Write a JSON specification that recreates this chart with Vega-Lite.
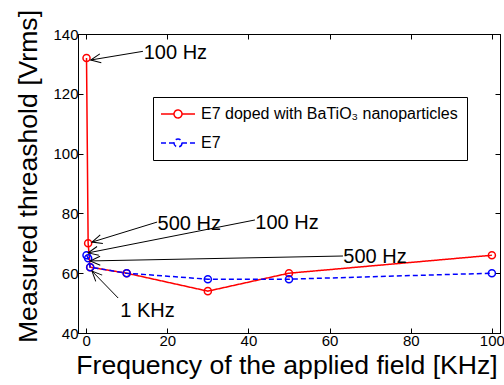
{
  "$schema": "https://vega.github.io/schema/vega-lite/v6.json",
  "width": 422,
  "height": 299,
  "autosize": {"type": "none"},
  "padding": {"left": 78, "top": 34, "right": 4, "bottom": 52},
  "background": "white",
  "config": {
    "view": {"stroke": "black", "strokeWidth": 1},
    "font": "Liberation Sans",
    "axis": {
      "grid": false,
      "domainColor": "black",
      "tickColor": "black",
      "labelColor": "black",
      "titleColor": "black",
      "labelFont": "Liberation Sans",
      "titleFont": "Liberation Sans",
      "labelFontSize": 15,
      "titleFontSize": 26.6,
      "titleFontWeight": "normal",
      "tickSize": -5,
      "tickWidth": 1,
      "domainWidth": 1
    }
  },
  "datasets": {
    "series": [
      {"f": 0.1, "v": 132, "s": "E7 doped with BaTiO₃ nanoparticles"},
      {"f": 0.5, "v": 70, "s": "E7 doped with BaTiO₃ nanoparticles"},
      {"f": 1, "v": 62, "s": "E7 doped with BaTiO₃ nanoparticles"},
      {"f": 10, "v": 60, "s": "E7 doped with BaTiO₃ nanoparticles"},
      {"f": 30, "v": 54, "s": "E7 doped with BaTiO₃ nanoparticles"},
      {"f": 50, "v": 60, "s": "E7 doped with BaTiO₃ nanoparticles"},
      {"f": 100, "v": 66, "s": "E7 doped with BaTiO₃ nanoparticles"},
      {"f": 0.1, "v": 66, "s": "E7"},
      {"f": 0.5, "v": 65, "s": "E7"},
      {"f": 1, "v": 62, "s": "E7"},
      {"f": 10, "v": 60, "s": "E7"},
      {"f": 30, "v": 58, "s": "E7"},
      {"f": 50, "v": 58, "s": "E7"},
      {"f": 100, "v": 60, "s": "E7"}
    ],
    "ann": [
      {"label": "100 Hz", "tx": 14.2, "ty": 133.6, "x1": 14.0, "y1": 134.2, "x2": 1.13, "y2": 131.3},
      {"label": "500 Hz", "tx": 17.6, "ty": 76.4, "x1": 17.5, "y1": 77.1, "x2": 1.45, "y2": 70.4},
      {"label": "100 Hz", "tx": 41.7, "ty": 76.9, "x1": 41.6, "y1": 77.8, "x2": 0.5, "y2": 66.8},
      {"label": "500 Hz", "tx": 63.4, "ty": 65.4, "x1": 63.3, "y1": 65.75, "x2": 1.0, "y2": 64.1},
      {"label": "1 KHz", "tx": 8.4, "ty": 47.3, "x1": 7.9, "y1": 51.7, "x2": 1.45, "y2": 60.7}
    ]
  },
  "layer": [
    {
      "data": {"name": "series"},
      "transform": [{"filter": "datum.s !== 'E7'"}],
      "mark": {"type": "line", "strokeWidth": 1.5},
      "encoding": {
        "x": {"field": "f", "type": "quantitative", "scale": {"domain": [-2, 102], "nice": false, "zero": false},
          "axis": {"orient": "bottom", "values": [0, 20, 40, 60, 80, 100], "title": "Frequency of the applied field [KHz]", "labelPadding": 5, "titlePadding": 4, "titleX": 208.5}},
        "y": {"field": "v", "type": "quantitative", "scale": {"domain": [40, 140], "nice": false, "zero": false},
          "axis": {"orient": "left", "values": [40, 60, 80, 100, 120, 140], "title": "Measured threashold [Vrms]", "labelPadding": 5, "titlePadding": 10, "titleY": 142}},
        "color": {"field": "s", "type": "nominal",
          "scale": {"domain": ["E7 doped with BaTiO₃ nanoparticles", "E7"], "range": ["#ff0000", "#0000ff"]},
          "legend": {"orient": "none", "legendX": 75, "legendY": 63, "title": null, "strokeColor": "black", "fillColor": "white", "padding": 9,
            "symbolType": "M-3.4,0L-0.8,0M0.8,0L3.4,0M0.8,0A0.8,0.8,0,1,1,-0.8,0A0.8,0.8,0,1,1,0.8,0",
            "symbolSize": 100, "symbolStrokeWidth": 1.5, "symbolOffset": 8, "labelOffset": 15, "labelFontSize": 16,
            "labelFont": "Liberation Sans", "labelColor": "black", "rowPadding": 13, "labelLimit": 0, "symbolFillColor": "transparent"}},
        "strokeDash": {"field": "s", "type": "nominal",
          "scale": {"domain": ["E7 doped with BaTiO₃ nanoparticles", "E7"], "range": [[1, 0], [5, 3]]}}
      }
    },
    {
      "data": {"name": "series"},
      "transform": [{"filter": "datum.s !== 'E7'"}],
      "mark": {"type": "point", "filled": false, "size": 50, "strokeWidth": 1.5, "opacity": 1},
      "encoding": {
        "x": {"field": "f", "type": "quantitative", "scale": {"domain": [-2, 102], "nice": false, "zero": false}, "axis": null},
        "y": {"field": "v", "type": "quantitative", "scale": {"domain": [40, 140], "nice": false, "zero": false}, "axis": null},
        "color": {"field": "s", "type": "nominal", "scale": {"domain": ["E7 doped with BaTiO₃ nanoparticles", "E7"], "range": ["#ff0000", "#0000ff"]}}
      }
    },
    {
      "data": {"name": "series"},
      "transform": [{"filter": "datum.s === 'E7'"}],
      "mark": {"type": "line", "strokeWidth": 1.5},
      "encoding": {
        "x": {"field": "f", "type": "quantitative", "scale": {"domain": [-2, 102], "nice": false, "zero": false},
          "axis": {"orient": "top", "values": [0, 20, 40, 60, 80, 100], "labels": false, "title": null}},
        "y": {"field": "v", "type": "quantitative", "scale": {"domain": [40, 140], "nice": false, "zero": false},
          "axis": {"orient": "right", "values": [40, 60, 80, 100, 120, 140], "labels": false, "title": null}},
        "color": {"field": "s", "type": "nominal", "scale": {"domain": ["E7 doped with BaTiO₃ nanoparticles", "E7"], "range": ["#ff0000", "#0000ff"]}},
        "strokeDash": {"field": "s", "type": "nominal", "scale": {"domain": ["E7 doped with BaTiO₃ nanoparticles", "E7"], "range": [[1, 0], [5, 3]]}}
      }
    },
    {
      "data": {"name": "series"},
      "transform": [{"filter": "datum.s === 'E7'"}],
      "mark": {"type": "point", "filled": false, "size": 50, "strokeWidth": 1.5, "opacity": 1},
      "encoding": {
        "x": {"field": "f", "type": "quantitative", "scale": {"domain": [-2, 102], "nice": false, "zero": false}, "axis": null},
        "y": {"field": "v", "type": "quantitative", "scale": {"domain": [40, 140], "nice": false, "zero": false}, "axis": null},
        "color": {"field": "s", "type": "nominal", "scale": {"domain": ["E7 doped with BaTiO₃ nanoparticles", "E7"], "range": ["#ff0000", "#0000ff"]}}
      }
    },
    {
      "data": {"name": "ann"},
      "mark": {"type": "rule", "color": "black", "strokeWidth": 1},
      "encoding": {
        "x": {"field": "x1", "type": "quantitative", "scale": {"domain": [-2, 102], "nice": false, "zero": false}, "axis": null},
        "y": {"field": "y1", "type": "quantitative", "scale": {"domain": [40, 140], "nice": false, "zero": false}, "axis": null},
        "x2": {"field": "x2"},
        "y2": {"field": "y2"}
      }
    },
    {
      "data": {"name": "ann"},
      "transform": [{"calculate": "atan2(-(datum.y2 - datum.y1) * 2.99, (datum.x2 - datum.x1) * 4.0577) * 180 / PI", "as": "ang"}],
      "mark": {"type": "point", "shape": "M-1,-0.45L0,0L-1,0.45", "filled": false, "color": "black", "size": 400, "strokeWidth": 1, "opacity": 1},
      "encoding": {
        "x": {"field": "x2", "type": "quantitative", "scale": {"domain": [-2, 102], "nice": false, "zero": false}, "axis": null},
        "y": {"field": "y2", "type": "quantitative", "scale": {"domain": [40, 140], "nice": false, "zero": false}, "axis": null},
        "angle": {"field": "ang", "type": "quantitative", "scale": null}
      }
    },
    {
      "data": {"name": "ann"},
      "mark": {"type": "text", "align": "left", "baseline": "middle", "fontSize": 20, "font": "Liberation Sans", "color": "black"},
      "encoding": {
        "x": {"field": "tx", "type": "quantitative", "scale": {"domain": [-2, 102], "nice": false, "zero": false}, "axis": null},
        "y": {"field": "ty", "type": "quantitative", "scale": {"domain": [40, 140], "nice": false, "zero": false}, "axis": null},
        "text": {"field": "label"}
      }
    }
  ],
  "resolve": {"axis": {"x": "independent", "y": "independent"}}
}
